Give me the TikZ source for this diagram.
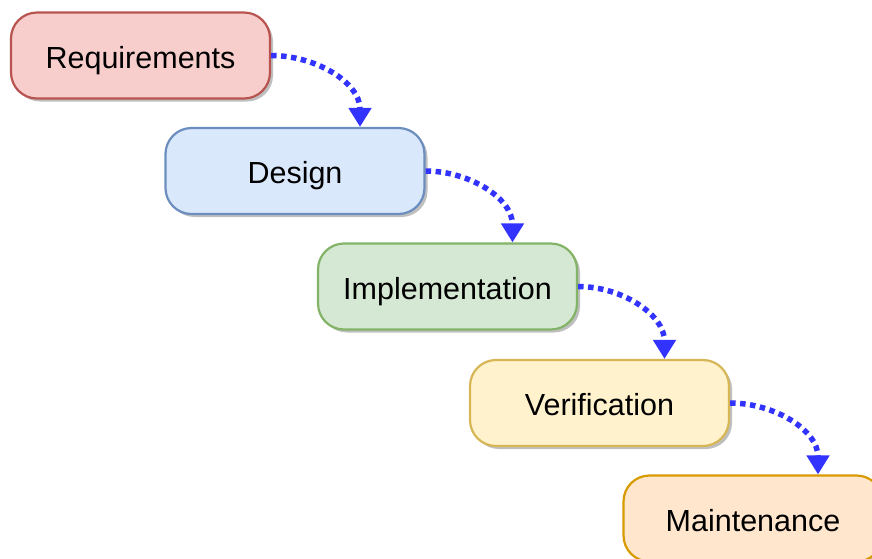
\documentclass[tikz,border=0pt]{standalone}
\usepackage{fontspec}
\setmainfont{Liberation Sans}
\usetikzlibrary{arrows.meta}
\definecolor{redfill}{HTML}{F8CECC}\definecolor{redline}{HTML}{B85450}
\definecolor{bluefill}{HTML}{DAE8FC}\definecolor{blueline}{HTML}{6C8EBF}
\definecolor{greenfill}{HTML}{D5E8D4}\definecolor{greenline}{HTML}{82B366}
\definecolor{yellowfill}{HTML}{FFF2CC}\definecolor{yellowline}{HTML}{D6B656}
\definecolor{orangefill}{HTML}{FFE6CC}\definecolor{orangeline}{HTML}{D79B00}
\definecolor{arrowblue}{HTML}{3333FF}
\begin{document}
\begin{tikzpicture}[x=1pt,y=-1pt,
  stage/.style={rectangle, rounded corners=26pt, minimum width=259pt, minimum height=86pt,
    line width=2.2pt, inner sep=0pt, text height=25pt, text depth=0pt,
    font=\fontsize{30.5}{36}\selectfont,
    preaction={fill=black, opacity=0.25, transform canvas={shift={(3pt,-3pt)}}}},
  flow/.style={arrowblue, line width=5.5pt, dash pattern=on 5.5pt off 4.5pt,
    -{Triangle[width=22pt,length=19pt]}}]
\useasboundingbox (0,0) rectangle (872,558);
\clip (0,0) rectangle (872,558);
\node[stage, fill=redfill, draw=redline] (req) at (140.5,55.5) {Requirements};
\node[stage, fill=bluefill, draw=blueline] (des) at (295,171) {Design};
\node[stage, fill=greenfill, draw=greenline] (imp) at (447.5,286.5) {Implementation};
\node[stage, fill=yellowfill, draw=yellowline] (ver) at (599.5,403) {Verification};
\node[stage, fill=orangefill, draw=orangeline] (mai) at (753,518.5) {Maintenance};
\draw[flow] (req.east) to[out=0,in=90] ([xshift=65pt]des.north);
\draw[flow] (des.east) to[out=0,in=90] ([xshift=65pt]imp.north);
\draw[flow] (imp.east) to[out=0,in=90] ([xshift=65pt]ver.north);
\draw[flow] (ver.east) to[out=0,in=90] ([xshift=65pt]mai.north);
\end{tikzpicture}
\end{document}
